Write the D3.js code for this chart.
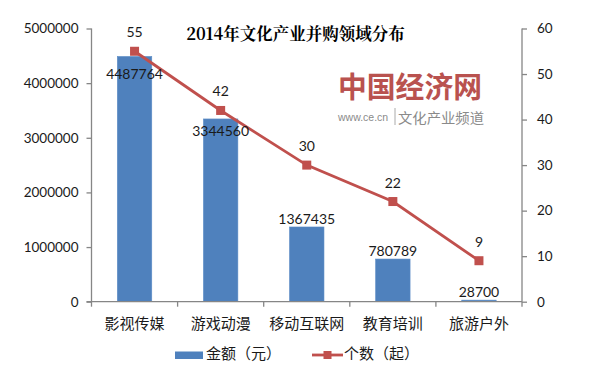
<!DOCTYPE html>
<html><head><meta charset="utf-8">
<script src="https://cdn.jsdelivr.net/npm/d3@7"></script>
<style>
html,body{margin:0;padding:0;background:#fff;}
svg{display:block;}
</style></head>
<body>
<script>
const categories = ["影视传媒","游戏动漫","移动互联网","教育培训","旅游户外"];
const amounts = [4487764, 3344560, 1367435, 780789, 28700];
const counts = [55, 42, 30, 22, 9];
const leftTicks = [0,1000000,2000000,3000000,4000000,5000000];
const rightTicks = [0,10,20,30,40,50,60];
const titleText = "2014年文化产业并购领域分布";
const legendLabels = ["金额（元）","个数（起）"];

const W=600,H=371;
const m={left:91.5,right:522,top:28.5,bottom:301.7};
const barColor="#4F81BD", lineColor="#C0504D", axisColor="#868686", textColor="#1a1a1a";
const numFont="Lato, 'Open Sans', sans-serif";
const cjkFont="'Noto Sans CJK SC', sans-serif";

const svg=d3.select("body").append("svg").attr("width",W).attr("height",H);

const x=d3.scaleBand().domain(categories).range([m.left,m.right]).paddingInner(0).paddingOuter(0);
const yL=d3.scaleLinear().domain([0,5000000]).range([m.bottom,m.top]);
const yR=d3.scaleLinear().domain([0,60]).range([m.bottom,m.top]);
const bw=x.bandwidth()*0.4;
const cx=d=>x(d)+x.bandwidth()/2;

// title
svg.append("text").attr("x",295.5).attr("y",40).attr("text-anchor","middle")
  .attr("font-family","'Noto Serif CJK SC','Noto Sans CJK SC',serif").attr("font-weight",700)
  .attr("font-size",16.5).attr("fill","#000").text(titleText);

// watermark
const wm=svg.append("g");
wm.append("text").attr("x",338).attr("y",98).attr("font-family",cjkFont).attr("font-weight",700)
  .attr("font-size",29).attr("fill","#b9524f").attr("textLength",144).attr("lengthAdjust","spacingAndGlyphs").text("中国经济网");
wm.append("text").attr("x",338).attr("y",121).attr("font-family","'Liberation Sans',Arial,sans-serif")
  .attr("font-size",10.5).attr("fill","#8a8a8a").text("www.ce.cn");
wm.append("line").attr("x1",395).attr("x2",395).attr("y1",108).attr("y2",125).attr("stroke","#aaa").attr("stroke-width",1);
wm.append("text").attr("x",398).attr("y",123).attr("font-family",cjkFont)
  .attr("font-size",14).attr("fill","#8a8a8a").attr("textLength",86).attr("lengthAdjust","spacingAndGlyphs").text("文化产业频道");

// bars
svg.append("g").selectAll("rect").data(categories).join("rect")
  .attr("x",(d)=>cx(d)-bw/2).attr("width",bw)
  .attr("y",(d,i)=>yL(amounts[i])).attr("height",(d,i)=>m.bottom-yL(amounts[i]))
  .attr("fill",barColor).attr("stroke","#5b8cc6").attr("stroke-width",0.6);

// axes
const axL=svg.append("g").attr("transform",`translate(${m.left},0)`)
  .call(d3.axisLeft(yL).tickValues(leftTicks).tickFormat(d3.format("d")).tickSize(5).tickPadding(8));
const axR=svg.append("g").attr("transform",`translate(${m.right},0)`)
  .call(d3.axisRight(yR).tickValues(rightTicks).tickFormat(d3.format("d")).tickSize(5).tickPadding(10));
[axL,axR].forEach(a=>{
  a.select(".domain").attr("stroke",axisColor).attr("stroke-width",1.3).attr("d",`M0,${m.top}V${m.bottom}`);
  a.selectAll(".tick line").attr("stroke",axisColor).attr("stroke-width",1.3);
  a.selectAll(".tick text").attr("font-family",numFont).attr("font-size",13.5).attr("fill",textColor);
});
// category axis
const axB=svg.append("g").attr("transform",`translate(0,${m.bottom})`);
axB.append("line").attr("x1",m.left-5).attr("x2",m.right).attr("y1",0).attr("y2",0).attr("stroke",axisColor).attr("stroke-width",1.3);
const bounds=categories.map(c=>x(c)).concat([m.right]);
axB.selectAll("line.t").data(bounds).join("line").attr("class","t")
  .attr("x1",d=>d).attr("x2",d=>d).attr("y1",0).attr("y2",5).attr("stroke",axisColor).attr("stroke-width",1.3);
axB.selectAll("text").data(categories).join("text")
  .attr("x",d=>cx(d)).attr("y",27).attr("text-anchor","middle")
  .attr("font-family",cjkFont).attr("font-size",15).attr("fill",textColor).text(d=>d);

// line
const pts=categories.map((c,i)=>[cx(c),yR(counts[i])]);
svg.append("path").attr("d",d3.line()(pts)).attr("fill","none").attr("stroke",lineColor).attr("stroke-width",2.8);
svg.append("g").selectAll("rect").data(pts).join("rect")
  .attr("x",p=>p[0]-4.5).attr("y",p=>p[1]-4.5).attr("width",9).attr("height",9).attr("fill",lineColor);

// line labels
svg.append("g").selectAll("text").data(categories).join("text")
  .attr("x",d=>cx(d)).attr("y",(d,i)=>yR(counts[i])-14).attr("text-anchor","middle")
  .attr("font-family",numFont).attr("font-size",14).attr("fill",textColor).text((d,i)=>counts[i]);

// bar labels: outside end unless the line marker is in the way
svg.append("g").selectAll("text").data(categories).join("text")
  .attr("x",d=>cx(d)).attr("text-anchor","middle")
  .attr("y",(d,i)=>{
    const top=yL(amounts[i]);
    const outC=top-8;
    const ly=yR(counts[i]);
    let c;
    if(Math.abs(ly-outC)<20){
      const next=i<counts.length-1?yR(counts[i+1]):ly;
      const slope=(next-ly)/x.bandwidth();
      c=ly+slope*28+3;
    } else c=outC;
    return c+5;
  })
  .attr("font-family",numFont).attr("font-size",14).attr("fill",textColor).text((d,i)=>amounts[i]);

// legend
const lg=svg.append("g");
lg.append("rect").attr("x",175).attr("y",351.5).attr("width",28).attr("height",7.5).attr("fill",barColor);
lg.append("text").attr("x",206).attr("y",359).attr("font-family",cjkFont).attr("font-size",15).attr("fill",textColor).text(legendLabels[0]);
lg.append("line").attr("x1",312).attr("x2",343).attr("y1",355).attr("y2",355).attr("stroke",lineColor).attr("stroke-width",2.8);
lg.append("rect").attr("x",323.5).attr("y",351).attr("width",8).attr("height",8).attr("fill",lineColor);
lg.append("text").attr("x",344).attr("y",359).attr("font-family",cjkFont).attr("font-size",15).attr("fill",textColor).text(legendLabels[1]);
</script>
</body></html>
